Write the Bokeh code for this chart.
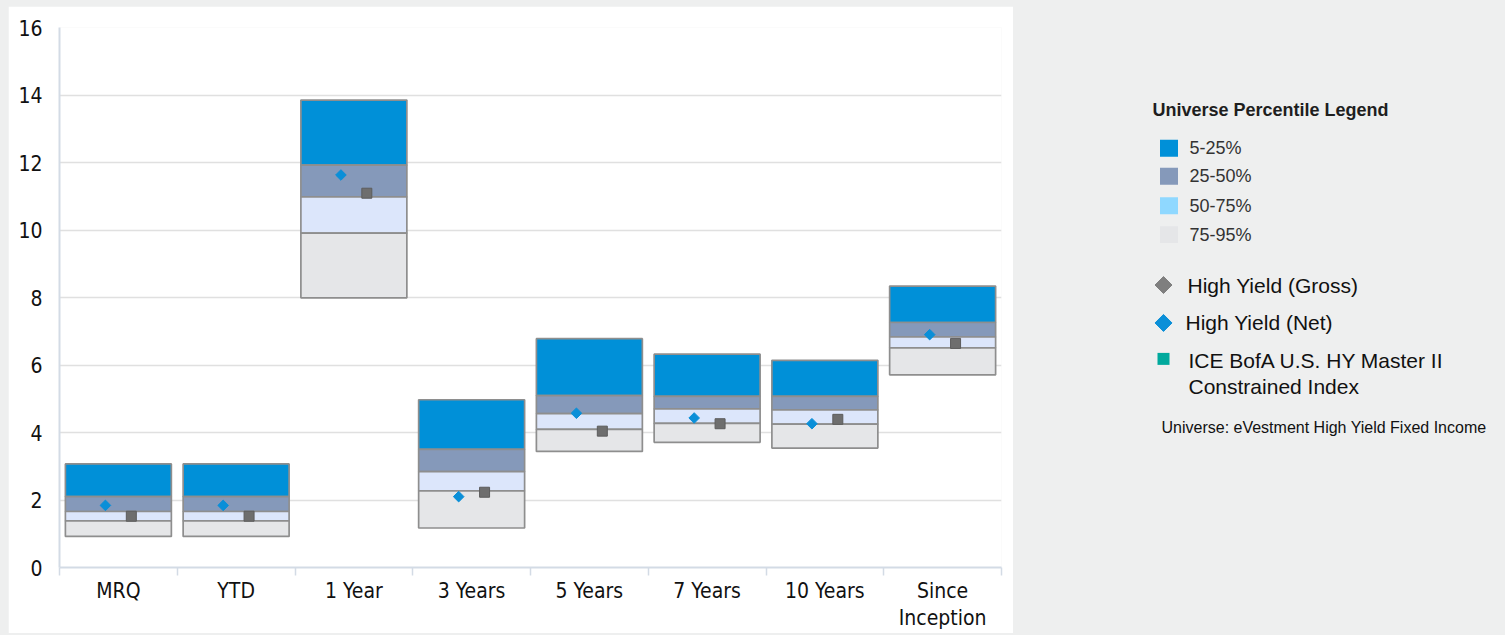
import math
from bokeh.plotting import figure
from bokeh.layouts import row
from bokeh.models import Range1d, FixedTicker, ColumnDataSource
from bokeh.transform import dodge
from bokeh.core.properties import value
from bokeh.embed import file_html
from bokeh.resources import INLINE

# ---------------- data ----------------
categories = ["MRQ", "YTD", "1 Year", "3 Years", "5 Years", "7 Years", "10 Years", "Since\nInception"]
p05 = [3.07, 3.07, 13.85, 4.97, 6.78, 6.32, 6.14, 8.34]
p25 = [2.10, 2.10, 11.92, 3.50, 5.09, 5.07, 5.07, 7.26]
p50 = [1.66, 1.66, 10.98, 2.84, 4.56, 4.70, 4.67, 6.83]
p75 = [1.38, 1.38, 9.91, 2.27, 4.09, 4.27, 4.25, 6.51]
p95 = [0.92, 0.92, 7.99, 1.17, 3.44, 3.71, 3.54, 5.71]
net = [1.84, 1.84, 11.63, 2.10, 4.57, 4.43, 4.26, 6.90]
gross = [1.52, 1.52, 11.09, 2.23, 4.04, 4.26, 4.39, 6.64]
y_ticks = [0, 2, 4, 6, 8, 10, 12, 14, 16]

band_labels = ["5-25%", "25-50%", "50-75%", "75-95%"]
band_colors = ["#0090D8", "#8599BA", "#DCE6FB", "#E5E6E8"]
band_legend_colors = ["#0090D8", "#8599BA", "#8FD8FF", "#E5E6E8"]
series_labels = ["High Yield (Gross)", "High Yield (Net)", "ICE BofA U.S. HY Master II\nConstrained Index"]
legend_title = "Universe Percentile Legend"
universe_note = "Universe: eVestment High Yield Fixed Income"

GRAY_BG = "#EEEFEF"
AXIS_COL = "#D3DBE5"
AX_FONT = "'DejaVu Sans Condensed', 'DejaVu Sans'"

FIG_H = 627
TOP_B = 21
BOT_B = 65

xs = list(range(len(categories)))
src = ColumnDataSource(dict(x=xs, p05=p05, p25=p25, p50=p50, p75=p75, p95=p95, net=net, gross=gross))

# ---------------- main chart ----------------
p = figure(width=1005, height=FIG_H, x_range=Range1d(-0.5, len(categories) - 0.5),
           y_range=Range1d(0, 16), output_backend="svg", toolbar_location=None,
           min_border_left=51, min_border_right=12, min_border_top=TOP_B, min_border_bottom=BOT_B)
p.background_fill_color = "white"
p.border_fill_color = "white"
p.outline_line_color = None

band_edges = [("p25", "p05"), ("p50", "p25"), ("p75", "p50"), ("p95", "p75")]
for (b, t), col in zip(band_edges, band_colors):
    p.vbar(x="x", width=0.9, bottom=b, top=t, source=src, fill_color=col,
           line_color="#8E8E8E", line_width=1.7)

p.scatter(x=dodge("x", -0.11, range=p.x_range), y="net", source=src, marker="square",
          angle=math.pi / 4, size=7.5, fill_color="#0A8FD8", line_color="#0A8FD8")
p.scatter(x=dodge("x", 0.11, range=p.x_range), y="gross", source=src, marker="square",
          size=10, fill_color="#6E6E6E", line_color="#5C5C5C", line_width=1)

# axes
p.xaxis.ticker = FixedTicker(ticks=xs, minor_ticks=[i - 0.5 for i in range(len(categories) + 1)])
p.xaxis.major_label_overrides = {i: c for i, c in enumerate(categories)}
p.xaxis.major_tick_line_color = None
p.xaxis.major_tick_out = 0
p.xaxis.major_tick_in = 0
p.xaxis.minor_tick_out = 8
p.xaxis.minor_tick_in = 0
p.xaxis.minor_tick_line_color = AXIS_COL
p.xaxis.minor_tick_line_width = 1.5
p.xaxis.axis_line_color = AXIS_COL
p.xaxis.axis_line_width = 2
p.xaxis.major_label_standoff = 3
p.xaxis.major_label_text_font = AX_FONT
p.xaxis.major_label_text_font_size = "21px"
p.xaxis.major_label_text_line_height = 1.15
p.xaxis.major_label_text_color = "#111111"

p.yaxis.ticker = FixedTicker(ticks=y_ticks)
p.yaxis.major_tick_line_color = None
p.yaxis.minor_tick_line_color = None
p.yaxis.axis_line_color = AXIS_COL
p.yaxis.axis_line_width = 2
p.yaxis.major_label_standoff = 11
p.yaxis.major_label_text_font = AX_FONT
p.yaxis.major_label_text_font_size = "21px"
p.yaxis.major_label_text_color = "#111111"

p.xgrid.visible = False
p.ygrid.ticker = FixedTicker(ticks=y_ticks)
p.ygrid.grid_line_color = "#E0E0E0"
p.ygrid.grid_line_width = 1.5

# ---------------- legend panel (coordinates = pixels from panel top-left) ----------------
lg = figure(width=492, height=FIG_H, x_range=Range1d(0, 492), y_range=Range1d(FIG_H - BOT_B, TOP_B),
            output_backend="svg", toolbar_location=None,
            min_border_left=0, min_border_right=0, min_border_top=TOP_B, min_border_bottom=BOT_B)
lg.axis.visible = False
lg.grid.visible = False
lg.outline_line_color = None
lg.background_fill_color = GRAY_BG
lg.border_fill_color = GRAY_BG

font = value("Liberation Sans")
lg.text(x=[139], y=[104], text=[legend_title], text_font=font, text_font_size="18px",
        text_font_style="bold", text_color="#1E1E1E", text_baseline="middle")

sw_y = [142, 170, 199.5, 228.5]
lg.rect(x=[155.5] * 4, y=sw_y, width=18, height=17, fill_color=band_legend_colors, line_color=None)
lg.text(x=[176] * 4, y=sw_y, text=band_labels, text_font=font, text_font_size="18px",
        text_color="#333333", text_baseline="middle")

lg.scatter(x=[150], y=[279], marker="square", angle=math.pi / 4, size=12,
           fill_color="#7F7F7F", line_color="#7F7F7F")
lg.scatter(x=[150], y=[317], marker="square", angle=math.pi / 4, size=12,
           fill_color="#0A8FD8", line_color="#0A8FD8")
lg.rect(x=[150], y=[353], width=12, height=12, fill_color="#00A99D", line_color=None)
lg.text(x=[174, 172], y=[279, 317], text=series_labels[:2], text_font=font,
        text_font_size="21px", text_color="#111111", text_baseline="middle")
lines3 = series_labels[2].split("\n")
lg.text(x=[175, 175], y=[355, 381], text=lines3, text_font=font,
        text_font_size="21px", text_color="#111111", text_baseline="middle")
lg.text(x=[148], y=[422], text=[universe_note], text_font=font, text_font_size="16px",
        text_color="#111111", text_baseline="middle")

layout = row(p, lg)
html = file_html(layout, INLINE)
html = html.replace("<head>", "<head><style>body{background:%s;padding:6px 0 0 8px !important;}</style>" % GRAY_BG, 1)
open("out.html", "w").write(html)
